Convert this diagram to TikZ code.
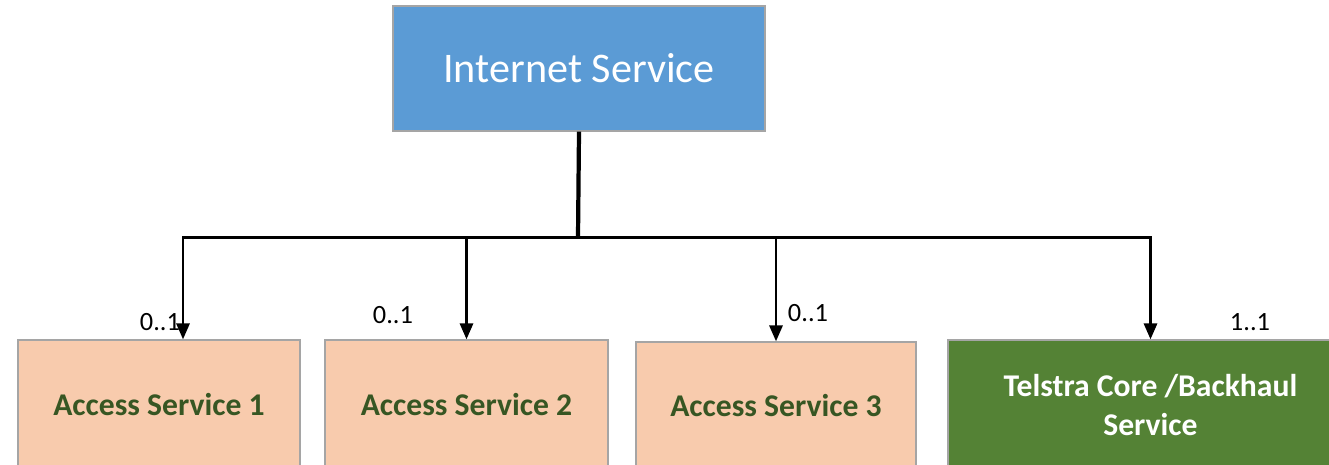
\documentclass[tikz,border=0pt]{standalone}
\usepackage{fontspec}
\setmainfont{Carlito}
\usetikzlibrary{arrows.meta}

\definecolor{inetblue}{HTML}{5B9BD5}
\definecolor{accpeach}{HTML}{F8CBAD}
\definecolor{accgreen}{HTML}{375623}
\definecolor{coregreen}{HTML}{548235}
\definecolor{boxline}{HTML}{A5A5A5}

\begin{document}
\begin{tikzpicture}

      \clip (0,0) rectangle (26.58,9.3);

      \begin{scope}[every node/.style={rectangle,draw=boxline,line width=0.8pt,align=center}]
        \node[fill=inetblue,text=white,minimum width=7.44cm,minimum height=2.5cm,font=\fontsize{24}{28}\selectfont] (inet) at (11.58,7.93) {Internet Service};
        \node[fill=accpeach,text=accgreen,minimum width=5.64cm,minimum height=2.6cm,font=\bfseries\fontsize{18}{22}\selectfont] (acc1) at (3.18,1.2) {Access Service 1};
        \node[fill=accpeach,text=accgreen,minimum width=5.66cm,minimum height=2.6cm,font=\bfseries\fontsize{18}{22}\selectfont] (acc2) at (9.33,1.2) {Access Service 2};
        \node[fill=accpeach,text=accgreen,minimum width=5.6cm,minimum height=2.56cm,font=\bfseries\fontsize{18}{22}\selectfont] (acc3) at (15.52,1.18) {Access Service 3};
        \node[fill=coregreen,text=white,minimum width=8.1cm,minimum height=2.6cm,font=\bfseries\fontsize{18}{22}\selectfont] (core) at (23.01,1.2) {Telstra Core /Backhaul\\Service};
      \end{scope}

      \begin{scope}[every node/.style={font=\fontsize{15}{18}\selectfont}]
        \node (m1) at (3.2,2.86) {0..1};
        \node (m2) at (7.86,3.0) {0..1};
        \node (m3) at (16.16,3.04) {0..1};
        \node (m4) at (25.0,2.86) {1..1};
      \end{scope}

      \coordinate (bus) at (11.56,4.55);

      \begin{scope}[>={Triangle[length=9pt,width=7.5pt]},
          every path/.style={draw=black,line width=1.3pt}]
        \path (inet.south) edge[line width=2.4pt] (bus);
        \path (bus) edge[line width=2.2pt] (bus -| acc2.north);
        \path [->] (bus) -| ([xshift=0.48cm]acc1.north);
        \path [->] (bus) -| (acc2.north);
        \path [->] (bus) -| (acc3.north);
        \path [->] (bus) -| (core.north);
      \end{scope}
    \end{tikzpicture}
\end{document}
